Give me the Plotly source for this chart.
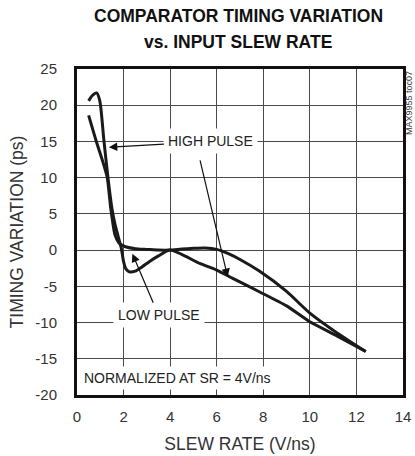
import plotly.graph_objects as go

# HIGH PULSE curve (hump at top, overshoot to -3, then lower straight line)
high_x = [0.5, 0.65, 0.84, 0.98, 1.16, 1.33, 1.5, 1.63, 1.75, 1.9, 2.0, 2.1, 2.25, 2.5, 2.8, 3.1, 3.5, 4.0, 5.27, 6.0, 6.69, 7.83, 9.0, 10.0, 11.2, 12.4]
high_y = [20.6, 21.3, 21.7, 20.6, 15.0, 10.0, 5.75, 3.6, 2.1, 0.3, -1.6, -2.6, -3.0, -2.9, -2.3, -1.6, -0.8, 0.0, -1.84, -2.76, -3.9, -5.75, -7.7, -9.9, -11.9, -14.0]

# LOW PULSE curve (straighter start, flat near 0, slight bump, upper line)
low_x = [0.5, 0.83, 1.1, 1.3, 1.45, 1.63, 1.8, 2.05, 2.5, 3.0, 3.5, 4.0, 4.5, 5.0, 5.5, 6.0, 6.5, 7.0, 7.83, 9.0, 10.0, 11.2, 12.4]
low_y = [18.6, 15.0, 12.3, 10.0, 5.75, 2.1, 1.0, 0.5, 0.2, 0.1, 0.0, 0.0, 0.15, 0.25, 0.3, 0.1, -0.5, -1.3, -2.9, -5.7, -8.7, -11.5, -14.0]

x_ticks = [0, 2, 4, 6, 8, 10, 12, 14]
y_ticks = [-20, -15, -10, -5, 0, 5, 10, 15, 20, 25]

FONT = "Liberation Sans, Arial, sans-serif"

fig = go.Figure()
for xs, ys in [(high_x, high_y), (low_x, low_y)]:
    fig.add_trace(go.Scatter(x=xs, y=ys, mode="lines",
                             line=dict(color="#1a1a1a", width=3, shape="spline", smoothing=0.6),
                             showlegend=False, hoverinfo="skip"))

ann_font = dict(family=FONT, size=14, color="#222")
arrow_common = dict(showarrow=True, arrowhead=2, arrowsize=1.4, arrowwidth=1.2,
                    arrowcolor="#111", axref="x", ayref="y", xref="x", yref="y")

fig.add_annotation(x=1.37, y=14.2, ax=5.75, ay=15, text="HIGH PULSE", font=ann_font,
                   bgcolor="white", borderpad=4, standoff=0, **arrow_common)
fig.add_annotation(x=6.47, y=-3.7, ax=5.27, ay=12.6, text="", **arrow_common)
fig.add_annotation(x=2.38, y=-0.5, ax=3.5, ay=-9.0, text="LOW PULSE", font=ann_font,
                   bgcolor="white", borderpad=4, **arrow_common)
fig.add_annotation(x=0.15, y=-17.6, xref="x", yref="y", text="NORMALIZED AT SR = 4V/ns",
                   xanchor="left", showarrow=False, font=ann_font, bgcolor="white", borderpad=3)
fig.add_annotation(x=1.0, y=1.0, xref="paper", yref="paper", xshift=6, text="MAX9955 toc07",
                   textangle=-90, xanchor="center", yanchor="top", showarrow=False,
                   font=dict(family=FONT, size=9, color="#333"))

# title as two annotation lines
title_lines = ["COMPARATOR TIMING VARIATION", "vs. INPUT SLEW RATE"]
for txt, yy in zip(title_lines, [1.1626, 1.0828]):
    fig.add_annotation(x=0.494, y=yy, xref="paper", yref="paper", text="<b>" + txt + "</b>",
                       showarrow=False, xanchor="center", yanchor="middle",
                       font=dict(family=FONT, size=17.5, color="#111"))

axis_common = dict(showgrid=True, gridcolor="#4a4a4a", gridwidth=1.3, zeroline=False,
                   showline=True, linecolor="#111", linewidth=3, mirror=True, automargin=False,
                   ticks="", tickfont=dict(family=FONT, size=15, color="#333"))

fig.update_xaxes(range=[0, 14], tickvals=x_ticks, ticktext=[str(v) for v in x_ticks],
                 ticklabelstandoff=6,
                 title=dict(text="SLEW RATE (V/ns)", font=dict(family=FONT, size=17.5, color="#333"), standoff=14),
                 **axis_common)
fig.update_yaxes(range=[-20, 25], tickvals=y_ticks, ticktext=[str(v) for v in y_ticks],
                 ticklabelstandoff=14,
                 title=dict(text="TIMING VARIATION (ps)", font=dict(family=FONT, size=17.5, color="#333"), standoff=8),
                 **axis_common)

fig.update_layout(
    width=415, height=456,
    margin=dict(l=77, r=12, t=69, b=61),
    paper_bgcolor="white", plot_bgcolor="white",
)

fig.write_html("out.html")
